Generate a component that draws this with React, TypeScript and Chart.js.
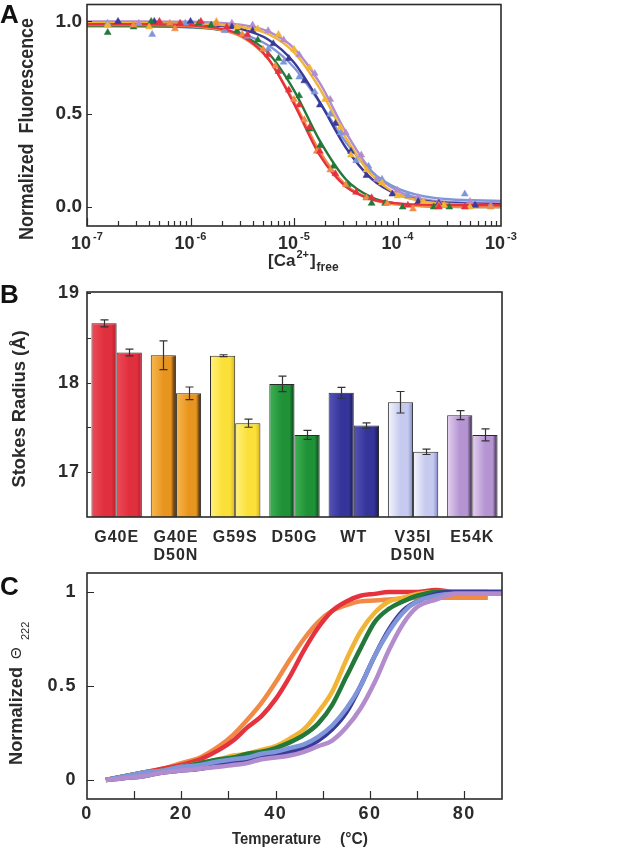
import React, { useEffect, useRef } from 'react';
import { Chart, registerables } from 'chart.js';

Chart.register(...registerables);

const FONT = '"Liberation Sans", Arial, Helvetica, sans-serif';
const INK = '#2b2b2b';

// ---------------- Panel A : Ca2+ titration ----------------
const A_DECADES = [-7, -6, -5, -4, -3];
const A_Y_TICKS = [0, 0.5, 1.0];
const FIT_EXP = [-7, -6.5, -6, -5.75, -5.5, -5.25, -5, -4.75, -4.5, -4.25, -4, -3.75, -3.5, -3];
const FIT_RED = [0.985, 0.985, 0.979, 0.965, 0.922, 0.8, 0.556, 0.278, 0.11, 0.042, 0.02, 0.013, 0.011, 0.01];
const FIT_ORANGE = [0.98, 0.98, 0.973, 0.958, 0.915, 0.798, 0.568, 0.298, 0.119, 0.041, 0.013, 0.004, 0.001, 0.0];
const FIT_GOLD = [0.99, 0.99, 0.988, 0.983, 0.969, 0.932, 0.833, 0.637, 0.374, 0.173, 0.07, 0.031, 0.017, 0.01];
const FIT_GREEN = [0.975, 0.975, 0.97, 0.958, 0.924, 0.831, 0.629, 0.356, 0.15, 0.053, 0.018, 0.006, 0.002, 0.0];
const FIT_NAVY = [0.99, 0.99, 0.986, 0.978, 0.957, 0.903, 0.779, 0.564, 0.321, 0.152, 0.068, 0.034, 0.022, 0.015];
const FIT_LIGHTBLUE = [0.975, 0.974, 0.967, 0.957, 0.931, 0.871, 0.752, 0.562, 0.35, 0.19, 0.101, 0.059, 0.042, 0.033];
const FIT_PURPLE = [1.0, 1.0, 0.998, 0.993, 0.981, 0.946, 0.855, 0.667, 0.404, 0.194, 0.087, 0.043, 0.028, 0.02];

const PT_RED_EXP = [-6.3, -6.1, -5.9, -5.65, -5.45, -5.25, -5.15, -5.05, -4.95, -4.85, -4.75, -4.6, -4.4, -4.25, -3.9, -3.6, -3.35];
const PT_RED_VAL = [1.0, 0.99, 1.0, 0.97, 0.93, 0.82, 0.73, 0.63, 0.55, 0.43, 0.3, 0.18, 0.08, 0.05, 0.01, 0.0, 0.0];
const PT_ORANGE_EXP = [-6.55, -6.2, -6.15, -5.75, -5.5, -5.3, -5.18, -5.0, -4.9, -4.78, -4.65, -4.5, -4.3, -4.1, -3.85, -3.6, -3.1];
const PT_ORANGE_VAL = [0.98, 0.99, 0.96, 0.99, 0.93, 0.85, 0.76, 0.58, 0.47, 0.3, 0.2, 0.12, 0.05, 0.02, -0.01, 0.01, 0.0];
const PT_GOLD_EXP = [-6.8, -6.4, -5.75, -5.55, -5.35, -5.15, -5.0, -4.85, -4.7, -4.55, -4.45, -4.3, -4.15, -4.0, -3.75, -3.55, -3.3];
const PT_GOLD_VAL = [0.98, 0.97, 1.0, 0.97, 0.96, 0.93, 0.85, 0.75, 0.58, 0.43, 0.28, 0.2, 0.13, 0.06, 0.03, 0.01, 0.0];
const PT_GREEN_EXP = [-6.8, -6.55, -6.38, -5.92, -5.8, -5.55, -5.35, -5.15, -5.05, -4.95, -4.85, -4.75, -4.62, -4.48, -4.3, -4.25, -4.12, -3.95, -3.65, -3.5];
const PT_GREEN_VAL = [0.94, 0.97, 1.0, 0.99, 0.98, 0.95, 0.9, 0.8, 0.7, 0.6, 0.42, 0.33, 0.22, 0.12, 0.05, 0.02, 0.02, 0.0, 0.0, 0.0];
const PT_NAVY_EXP = [-6.7, -6.35, -6.0, -5.6, -5.4, -5.2, -5.05, -4.9, -4.75, -4.6, -4.45, -4.3, -4.05, -3.8, -3.6, -3.25];
const PT_NAVY_VAL = [1.0, 1.0, 1.0, 0.97, 0.95, 0.88, 0.8, 0.68, 0.55, 0.45, 0.3, 0.17, 0.07, 0.03, 0.02, 0.01];
const PT_LIGHTBLUE_EXP = [-6.8, -6.37, -6.05, -5.67, -5.45, -5.25, -5.1, -4.95, -4.8, -4.65, -4.55, -4.4, -4.28, -4.15, -3.9, -3.35, -3.1];
const PT_LIGHTBLUE_VAL = [0.99, 0.93, 0.99, 0.95, 0.92, 0.85, 0.78, 0.7, 0.62, 0.5, 0.4, 0.25, 0.22, 0.15, 0.06, 0.07, 0.01];
const PT_PURPLE_EXP = [-6.5, -5.9, -5.6, -5.4, -5.25, -5.1, -4.95, -4.8, -4.65, -4.5, -4.35, -4.2, -4.0, -3.8, -3.6, -3.3];
const PT_PURPLE_VAL = [0.99, 0.99, 0.99, 0.98, 0.95, 0.9, 0.82, 0.72, 0.58, 0.4, 0.28, 0.15, 0.09, 0.05, 0.03, 0.03];

// ---------------- Panel B : Stokes radius ----------------
const MUTANTS = [['G40E'], ['G40E', 'D50N'], ['G59S'], ['D50G'], ['WT'], ['V35I', 'D50N'], ['E54K']];
const RADIUS_1 = [18.66, 18.305, 18.3, 17.985, 17.885, 17.78, 17.636];
const RADIUS_1_ERR = [0.04, 0.16, 0.01, 0.087, 0.06, 0.12, 0.05];
const RADIUS_2 = [18.335, 17.88, 17.546, 17.416, 17.52, 17.227, 17.416];
const RADIUS_2_ERR = [0.037, 0.07, 0.045, 0.05, 0.03, 0.03, 0.066];
const B_Y_TICKS = [17, 18, 19];
const B_Y_MARKS = [17, 17.5, 18, 18.5, 19];

// ---------------- Panel C : thermal unfolding ----------------
const TEMP = [4, 8, 12, 16, 20, 24, 28, 31, 34, 37, 40, 43, 46, 49, 52, 55, 58, 61, 64, 67, 70, 74, 78, 82, 85, 88];
const MELT_RED = [0, 0.02, 0.04, 0.06, 0.08, 0.11, 0.16, 0.21, 0.28, 0.34, 0.43, 0.55, 0.69, 0.81, 0.9, 0.95, 0.98, 0.99, 1.0, 1.0, 1.0, 1.01, 1.0, 1.0, 1.0, null];
const MELT_ORANGE = [0, 0.02, 0.04, 0.06, 0.09, 0.12, 0.18, 0.24, 0.32, 0.41, 0.52, 0.64, 0.75, 0.84, 0.9, 0.93, 0.95, 0.955, 0.96, 0.965, 0.97, 0.97, 0.97, 0.97, 0.97, null];
const MELT_GOLD = [0, 0.02, 0.04, 0.05, 0.07, 0.09, 0.11, 0.13, 0.14, 0.16, 0.18, 0.22, 0.27, 0.36, 0.47, 0.64, 0.79, 0.89, 0.95, 0.97, 0.99, 1.0, 1.0, 1.0, 1.0, 1.0];
const MELT_GREEN = [0, 0.02, 0.04, 0.05, 0.07, 0.09, 0.11, 0.12, 0.14, 0.15, 0.17, 0.2, 0.24, 0.3, 0.4, 0.55, 0.7, 0.84, 0.91, 0.95, 0.98, 1.0, 1.0, 1.0, 1.0, 1.0];
const MELT_NAVY = [0, 0.01, 0.02, 0.04, 0.05, 0.06, 0.08, 0.09, 0.1, 0.12, 0.13, 0.15, 0.17, 0.21, 0.27, 0.36, 0.5, 0.66, 0.8, 0.9, 0.95, 0.99, 1.0, 1.0, 1.0, 1.0];
const MELT_LIGHTBLUE = [0, 0.02, 0.04, 0.05, 0.07, 0.08, 0.1, 0.11, 0.12, 0.14, 0.15, 0.17, 0.19, 0.23, 0.29, 0.38, 0.5, 0.66, 0.79, 0.89, 0.95, 0.98, 0.99, 0.99, 0.99, 0.99];
const MELT_PURPLE = [0, 0.01, 0.02, 0.04, 0.05, 0.06, 0.07, 0.08, 0.09, 0.11, 0.12, 0.13, 0.15, 0.18, 0.21, 0.28, 0.38, 0.52, 0.69, 0.83, 0.92, 0.96, 0.99, 0.99, 0.99, 0.99];
const C_X_TICKS = [0, 10, 20, 30, 40, 50, 60, 70, 80];
const C_Y_TICKS = [0, 0.5, 1];

// colours
const RED = '#e5323f';
const ORANGE = '#f08a45';
const GOLD = '#f2b436';
const GREEN = '#23793a';
const NAVY = '#3a3a98';
const LIGHTBLUE = '#8096da';
const PURPLE = '#b28ccd';

const BAR_LIGHT = ['#ee4b58', '#f8b850', '#fff27a', '#40b052', '#5454b8', '#f6f6fd', '#e4d0f0'];
const BAR_MID = ['#e02f3d', '#e8951f', '#fbe03a', '#1f9238', '#34349a', '#c5caee', '#b495d2'];
const BAR_DARK = ['#b51d2b', '#24120a', '#d6b41c', '#0c3a18', '#17174a', '#7c86c6', '#2b1d3a'];

function fixW(w: number) {
  return (s: any) => {
    s.width = w;
    s.paddingTop = 0; s.paddingBottom = 0; s.paddingLeft = 0; s.paddingRight = 0;
  };
}
function fixH(h: number) {
  return (s: any) => {
    s.height = h;
    s.paddingTop = 0; s.paddingBottom = 0; s.paddingLeft = 0; s.paddingRight = 0;
  };
}
function setTicks(vals: number[]) {
  return (s: any) => { s.ticks = vals.map((v) => ({ value: v })); };
}

function frame(ctx: CanvasRenderingContext2D, a: any) {
  ctx.strokeStyle = INK;
  ctx.lineWidth = 1.6;
  ctx.strokeRect(a.left, a.top, a.right - a.left, a.bottom - a.top);
}

function rotatedText(ctx: CanvasRenderingContext2D, text: string, x: number, y: number, font: string, align: CanvasTextAlign, maxW?: number) {
  ctx.save();
  ctx.translate(x, y);
  ctx.rotate(-Math.PI / 2);
  ctx.font = font;
  ctx.textAlign = align;
  ctx.textBaseline = 'alphabetic';
  ctx.fillStyle = INK;
  if (maxW) ctx.fillText(text, 0, 0, maxW); else ctx.fillText(text, 0, 0);
  ctx.restore();
}

function panelLetter(ctx: CanvasRenderingContext2D, t: string, y: number) {
  ctx.save();
  ctx.font = `bold 26px ${FONT}`;
  ctx.fillStyle = '#111';
  ctx.textAlign = 'left';
  ctx.textBaseline = 'alphabetic';
  ctx.fillText(t, 0, y);
  ctx.restore();
}

function makeA(canvas: HTMLCanvasElement) {
  const series = [
    { c: RED, fit: FIT_RED, e: PT_RED_EXP, v: PT_RED_VAL },
    { c: ORANGE, fit: FIT_ORANGE, e: PT_ORANGE_EXP, v: PT_ORANGE_VAL },
    { c: GOLD, fit: FIT_GOLD, e: PT_GOLD_EXP, v: PT_GOLD_VAL },
    { c: GREEN, fit: FIT_GREEN, e: PT_GREEN_EXP, v: PT_GREEN_VAL },
    { c: NAVY, fit: FIT_NAVY, e: PT_NAVY_EXP, v: PT_NAVY_VAL },
    { c: LIGHTBLUE, fit: FIT_LIGHTBLUE, e: PT_LIGHTBLUE_EXP, v: PT_LIGHTBLUE_VAL },
    { c: PURPLE, fit: FIT_PURPLE, e: PT_PURPLE_EXP, v: PT_PURPLE_VAL },
  ];
  const datasets: any[] = [];
  series.forEach((s) => {
    datasets.push({
      data: s.e.map((e, i) => ({ x: Math.pow(10, e), y: s.v[i] })),
      pointStyle: 'triangle', pointRadius: 4, pointBackgroundColor: s.c, pointBorderColor: s.c,
      pointBorderWidth: 0.5, showLine: false, order: 0,
    });
    datasets.push({
      data: FIT_EXP.map((e, i) => ({ x: Math.pow(10, e), y: s.fit[i] })),
      showLine: true, pointRadius: 0, borderColor: s.c, borderWidth: 2.4,
      cubicInterpolationMode: 'monotone', order: 1,
    });
  });
  const plugin = {
    id: 'panelA',
    afterDatasetsDraw(chart: any) {
      const { ctx, chartArea: a, scales } = chart;
      const x = scales.x, y = scales.y;
      ctx.save();
      frame(ctx, a);
      ctx.lineWidth = 1.2;
      ctx.beginPath();
      for (let d = 0; d < A_DECADES.length - 1; d++) {
        for (let k = 1; k < 10; k++) {
          const px = Math.round(x.getPixelForValue(k * Math.pow(10, A_DECADES[d]))) + 0.5;
          const len = k === 1 ? 8 : 5;
          ctx.moveTo(px, a.bottom);
          ctx.lineTo(px, a.bottom - len);
        }
      }
      A_Y_TICKS.forEach((v) => {
        const py = Math.round(y.getPixelForValue(v)) + 0.5;
        ctx.moveTo(a.left, py);
        ctx.lineTo(a.left + 5, py);
      });
      ctx.stroke();
      ctx.restore();
    },
    afterDraw(chart: any) {
      const { ctx, scales } = chart;
      const x = scales.x;
      ctx.save();
      ctx.fillStyle = INK;
      ctx.textBaseline = 'alphabetic';
      ctx.textAlign = 'left';
      A_DECADES.forEach((d) => {
        const px = x.getPixelForValue(Math.pow(10, d));
        ctx.font = `bold 18px ${FONT}`;
        const w1 = ctx.measureText('10').width;
        ctx.font = `bold 11px ${FONT}`;
        const sup = String(d);
        const w2 = ctx.measureText(sup).width;
        const start = px - (w1 + w2 + 2) / 2;
        ctx.font = `bold 18px ${FONT}`;
        ctx.fillText('10', start, 249);
        ctx.font = `bold 11px ${FONT}`;
        ctx.fillText(sup, start + w1 + 2, 240);
      });
      // x title [Ca2+]free
      let cx = 268;
      ctx.font = `bold 17px ${FONT}`;
      ctx.fillText('[Ca', cx, 266);
      cx += ctx.measureText('[Ca').width + 1;
      ctx.font = `bold 11px ${FONT}`;
      ctx.fillText('2+', cx, 258);
      cx += ctx.measureText('2+').width + 1;
      ctx.font = `bold 17px ${FONT}`;
      ctx.fillText(']', cx, 266);
      cx += ctx.measureText(']').width + 1;
      ctx.font = `bold 12px ${FONT}`;
      ctx.fillText('free', cx, 271);
      ctx.restore();
      rotatedText(ctx, 'Normalized  Fluorescence', 33, 129, `bold 20px ${FONT}`, 'center', 222);
      panelLetter(ctx, 'A', 23);
    },
  };
  return new Chart(canvas, {
    type: 'scatter',
    data: { datasets },
    plugins: [plugin],
    options: {
      animation: false,
      responsive: false,
      layout: { padding: { left: 0, right: 140, top: 3, bottom: 0 } },
      plugins: { legend: { display: false }, tooltip: { enabled: false } },
      scales: {
        x: {
          type: 'logarithmic', min: 1e-7, max: 1e-3,
          grid: { display: false, drawTicks: false }, border: { display: false },
          ticks: { display: false },
          afterFit: fixH(52),
        },
        y: {
          min: -0.102, max: 1.091,
          grid: { display: false, drawTicks: false }, border: { display: false },
          ticks: { font: { family: FONT, size: 19, weight: 'bold' }, color: INK, padding: 5, callback: (v: any) => Number(v).toFixed(1) },
          afterBuildTicks: setTicks(A_Y_TICKS),
          afterFit: fixW(87),
        },
      },
    } as any,
  });
}

function makeB(canvas: HTMLCanvasElement) {
  const grad = (c: any) => {
    const chart = c.chart;
    const a = chart.chartArea;
    const i = c.dataIndex;
    if (i === undefined) return BAR_MID[0];
    if (!a) return BAR_MID[i];
    const center = chart.scales.x.getPixelForValue(i);
    const half = ((a.right - a.left) / MUTANTS.length) * 0.85 / 2;
    const x0 = c.datasetIndex === 0 ? center - half : center;
    const g = chart.ctx.createLinearGradient(x0, 0, x0 + half, 0);
    g.addColorStop(0, BAR_LIGHT[i]);
    g.addColorStop(0.5, BAR_MID[i]);
    g.addColorStop(0.8, BAR_MID[i]);
    g.addColorStop(1, BAR_DARK[i]);
    return g;
  };
  const errs = [RADIUS_1_ERR, RADIUS_2_ERR];
  const plugin = {
    id: 'panelB',
    beforeDraw(chart: any) { chart.ctx.letterSpacing = '1px'; },
    beforeDatasetsDraw(chart: any) { chart.ctx.letterSpacing = '0px'; },
    afterDatasetsDraw(chart: any) {
      const { ctx, chartArea: a, scales } = chart;
      const y = scales.y;
      ctx.save();
      ctx.strokeStyle = '#333';
      ctx.lineWidth = 1.2;
      ctx.beginPath();
      errs.forEach((e, di) => {
        const meta = chart.getDatasetMeta(di);
        const vals = chart.data.datasets[di].data as number[];
        meta.data.forEach((bar: any, i: number) => {
          const bx = Math.round(bar.x) + 0.5;
          const t = y.getPixelForValue(vals[i] + e[i]);
          const b = y.getPixelForValue(vals[i] - e[i]);
          ctx.moveTo(bx, t); ctx.lineTo(bx, b);
          ctx.moveTo(bx - 4, t); ctx.lineTo(bx + 4, t);
          ctx.moveTo(bx - 4, b); ctx.lineTo(bx + 4, b);
        });
      });
      ctx.stroke();
      frame(ctx, a);
      ctx.lineWidth = 1.2;
      ctx.beginPath();
      B_Y_MARKS.forEach((v) => {
        const py = Math.round(y.getPixelForValue(v)) + 0.5;
        ctx.moveTo(a.left, py); ctx.lineTo(a.left + 4, py);
      });
      ctx.stroke();
      ctx.restore();
    },
    afterDraw(chart: any) {
      const ctx = chart.ctx;
      ctx.letterSpacing = '0px';
      rotatedText(ctx, 'Stokes Radius (Å)', 25, 133, `bold 19px ${FONT}`, 'center', 157);
      panelLetter(ctx, 'B', 27);
    },
  };
  return new Chart(canvas, {
    type: 'bar',
    data: {
      labels: MUTANTS,
      datasets: [
        { data: RADIUS_1, backgroundColor: grad, borderColor: '#2a2a2a', borderWidth: 1, borderSkipped: 'bottom' },
        { data: RADIUS_2, backgroundColor: grad, borderColor: '#2a2a2a', borderWidth: 1, borderSkipped: 'bottom' },
      ],
    },
    plugins: [plugin],
    options: {
      animation: false,
      responsive: false,
      categoryPercentage: 0.85,
      barPercentage: 1.0,
      layout: { padding: { left: 0, right: 139, top: 16, bottom: 0 } },
      plugins: { legend: { display: false }, tooltip: { enabled: false } },
      scales: {
        x: {
          grid: { display: false, drawTicks: false }, border: { display: false },
          ticks: { font: { family: FONT, size: 16, weight: 'bold', lineHeight: 1.15 }, color: INK, padding: 11, autoSkip: false, maxRotation: 0 },
          afterFit: fixH(49),
        },
        y: {
          min: 16.5, max: 19.01,
          grid: { display: false, drawTicks: false }, border: { display: false },
          ticks: { font: { family: FONT, size: 18, weight: 'bold' }, color: INK, padding: 7 },
          afterBuildTicks: setTicks(B_Y_TICKS),
          afterFit: fixW(87),
        },
      },
    } as any,
  });
}

function makeC(canvas: HTMLCanvasElement) {
  const series = [
    { c: ORANGE, v: MELT_ORANGE },
    { c: RED, v: MELT_RED },
    { c: GOLD, v: MELT_GOLD },
    { c: GREEN, v: MELT_GREEN },
    { c: NAVY, v: MELT_NAVY },
    { c: LIGHTBLUE, v: MELT_LIGHTBLUE },
    { c: PURPLE, v: MELT_PURPLE },
  ];
  const datasets = series.map((s, k) => ({
    data: TEMP.map((t, i) => ({ x: t, y: s.v[i] })),
    showLine: true, pointRadius: 0, borderColor: s.c, borderWidth: 4.5,
    cubicInterpolationMode: 'monotone', spanGaps: false, order: series.length - k,
  }));
  const plugin = {
    id: 'panelC',
    beforeDraw(chart: any) { chart.ctx.letterSpacing = '1.5px'; },
    beforeDatasetsDraw(chart: any) { chart.ctx.letterSpacing = '0px'; },
    afterDatasetsDraw(chart: any) {
      const { ctx, chartArea: a, scales } = chart;
      ctx.save();
      frame(ctx, a);
      ctx.lineWidth = 1.2;
      ctx.beginPath();
      C_X_TICKS.slice(1).forEach((v) => {
        const px = Math.round(scales.x.getPixelForValue(v)) + 0.5;
        ctx.moveTo(px, a.bottom); ctx.lineTo(px, a.bottom - 8);
      });
      C_Y_TICKS.forEach((v) => {
        const py = Math.round(scales.y.getPixelForValue(v)) + 0.5;
        ctx.moveTo(a.left, py); ctx.lineTo(a.left + 7, py);
      });
      ctx.stroke();
      ctx.restore();
    },
    afterDraw(chart: any) {
      const ctx = chart.ctx;
      ctx.letterSpacing = '0px';
      ctx.save();
      ctx.fillStyle = INK;
      ctx.textAlign = 'left';
      ctx.textBaseline = 'alphabetic';
      ctx.font = `bold 17px ${FONT}`;
      ctx.fillText('Temperature', 232, 278, 89);
      ctx.fillText('(°C)', 340, 278, 28);
      ctx.restore();
      rotatedText(ctx, 'Normalized', 22, 199, `bold 19px ${FONT}`, 'left', 98);
      rotatedText(ctx, 'Θ', 21, 93, `15px ${FONT}`, 'left');
      rotatedText(ctx, '222', 29, 74, `11px ${FONT}`, 'left');
      panelLetter(ctx, 'C', 29);
    },
  };
  return new Chart(canvas, {
    type: 'scatter',
    data: { datasets },
    plugins: [plugin],
    options: {
      animation: false,
      responsive: false,
      layout: { padding: { left: 0, right: 139, top: 7, bottom: 0 } },
      plugins: { legend: { display: false }, tooltip: { enabled: false } },
      scales: {
        x: {
          min: 0, max: 88,
          grid: { display: false, drawTicks: false }, border: { display: false },
          ticks: {
            font: { family: FONT, size: 18, weight: 'bold' }, color: INK, padding: 4, autoSkip: false, maxRotation: 0,
            callback: (v: any) => (Number(v) % 20 === 0 ? String(v) : ''),
          },
          afterBuildTicks: setTicks(C_X_TICKS),
          afterFit: fixH(54),
        },
        y: {
          min: -0.101, max: 1.101,
          grid: { display: false, drawTicks: false }, border: { display: false },
          ticks: { font: { family: FONT, size: 18, weight: 'bold' }, color: INK, padding: 10, callback: (v: any) => String(v) },
          afterBuildTicks: setTicks(C_Y_TICKS),
          afterFit: fixW(87),
        },
      },
    } as any,
  });
}

export default function App() {
  const refA = useRef<HTMLCanvasElement>(null);
  const refB = useRef<HTMLCanvasElement>(null);
  const refC = useRef<HTMLCanvasElement>(null);

  useEffect(() => {
    const charts = [makeA(refA.current!), makeB(refB.current!), makeC(refC.current!)];
    return () => charts.forEach((c) => c.destroy());
  }, []);

  const abs = (top: number, h: number): React.CSSProperties => ({
    position: 'absolute', left: 0, top, width: 641, height: h, display: 'block',
  });

  return (
    <div style={{ position: 'absolute', left: 0, top: 0, width: 641, height: 853, background: '#ffffff', overflow: 'hidden' }}>
      <canvas ref={refA} width={641} height={278} style={abs(0, 278)} />
      <canvas ref={refB} width={641} height={290} style={abs(276, 290)} />
      <canvas ref={refC} width={641} height={287} style={abs(566, 287)} />
    </div>
  );
}
